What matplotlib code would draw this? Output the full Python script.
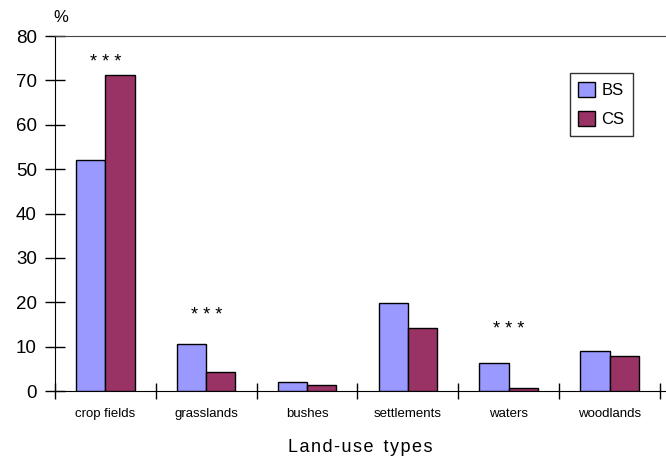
import matplotlib
matplotlib.use("Agg")
import matplotlib.pyplot as plt
import numpy as np

plt.rcParams['font.family'] = ['Liberation Sans', 'DejaVu Sans']

categories = ["crop fields", "grasslands", "bushes", "settlements", "waters", "woodlands"]
bs_values = [52.0, 10.5, 2.0, 19.9, 6.3, 9.0]
cs_values = [71.2, 4.3, 1.4, 14.2, 0.6, 8.0]
sig_labels = ["* * *", "* * *", "", "", "* * *", ""]
sig_heights = [75.2, 18.2, None, None, 14.9, None]
yticks = [0, 10, 20, 30, 40, 50, 60, 70, 80]

fig = plt.figure(figsize=(6.66, 4.61), dpi=100)
ax = fig.add_axes([55/666, 70/461, 1 - 55/666, 355/461])

x = np.arange(len(categories))
w = 0.29
ax.bar(x - w/2, bs_values, w, color="#9999FF", edgecolor="black", linewidth=1, label="BS", zorder=3)
ax.bar(x + w/2, cs_values, w, color="#993366", edgecolor="black", linewidth=1, label="CS", zorder=3)

for xi, s, h in zip(x, sig_labels, sig_heights):
    if s and h is not None:
        ax.annotate(s, (xi, h), xytext=(0, -3.5), textcoords="offset points",
                    ha="center", va="center", fontsize=13)

ax.set_xlim(-0.5, 5.56)
ax.set_ylim(0, 80)
ax.set_yticks(yticks)
ax.set_yticklabels([str(v) for v in yticks], fontsize=13.5)
ax.tick_params(axis='y', direction='inout', length=14, width=1, pad=6)

ax.set_xticks(np.arange(-0.5, 6.0, 1.0))
ax.set_xticklabels([])
ax.set_xticks(x, minor=True)
ax.set_xticklabels(categories, minor=True, fontsize=9.5)
ax.tick_params(axis='x', which='major', direction='inout', length=12, width=1)
ax.tick_params(axis='x', which='minor', length=0, pad=12)

ax.spines['right'].set_visible(False)
ax.spines['top'].set_color('#444444')
ax.spines['left'].set_color('black')
ax.spines['bottom'].set_color('black')

ax.set_xlabel("L\u200aa\u200an\u200ad\u200a-\u200au\u200as\u200ae  t\u200ay\u200ap\u200ae\u200as",
              fontsize=13, labelpad=14)
fig.text(61/666, 1 - 18/461, "%", ha="center", va="center", fontsize=12)

leg = ax.legend(loc="upper right", fontsize=12, frameon=True, fancybox=False, edgecolor="black",
                handlelength=1.0, handleheight=1.0, handletextpad=0.4, borderpad=0.5, labelspacing=0.8)
leg.set_bbox_to_anchor((641/666, (461-65)/461), transform=fig.transFigure)
leg.get_frame().set_linewidth(1)

fig.savefig("out.png", dpi=100)
